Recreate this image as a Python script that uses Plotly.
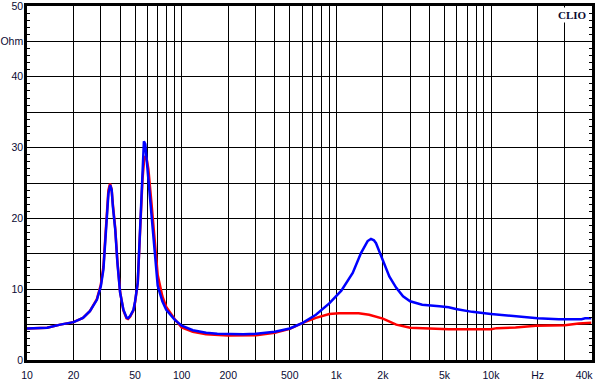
import plotly.graph_objects as go

# ---- data ----
freq_blue = [10, 13.5, 16.4, 20, 23, 25.5, 28.3, 30, 31.2, 32.5, 33.6, 34.5, 35.3, 35.9,
             37.2, 38.4, 40, 42, 44, 45, 46.4, 48.8, 50, 52, 53.9, 55.8, 57, 58.2, 59,
             60.9, 63.9, 67.3, 70, 75, 79.5, 90, 100, 118, 144, 170, 198, 250, 303, 400,
             500, 606, 738, 900, 1077, 1276, 1443, 1593, 1675, 1750, 1806, 2000, 2200,
             2440, 2700, 3000, 3590, 4640, 5330, 5920, 7560, 10000, 13700, 20000, 27400,
             38500, 40600, 44500]
imp_blue = [4.45, 4.55, 5.0, 5.35, 5.95, 6.9, 8.5, 10.4, 12.8, 18.4, 23.5, 24.7, 24.0, 21.7,
            18.4, 13.8, 9.5, 7.1, 6.0, 5.9, 6.2, 7.1, 8.3, 10.9, 18.4, 26.9, 30.9, 30.5, 29.0,
            25.5, 19.8, 14.7, 10.5, 8.3, 7.1, 5.7, 4.85, 4.2, 3.85, 3.7, 3.65, 3.65, 3.7, 4.0,
            4.45, 5.25, 6.4, 8.0, 9.8, 12.3, 15.1, 16.8, 17.1, 16.9, 16.5, 14.2, 11.8,
            10.2, 9.0, 8.3, 7.8, 7.6, 7.46, 7.2, 6.8, 6.5, 6.2, 5.9, 5.76,
            5.76, 5.9, 5.9]

freq_red = [10, 13.5, 16.4, 20, 23, 25.5, 28.3, 30, 31.2, 32.5, 33.6, 34.4, 35.2, 35.9,
            37.2, 38.4, 40, 42, 44, 45, 46.4, 48.8, 50, 52, 53.9, 55.8, 57.3, 58.5, 59.5,
            60.9, 63.9, 67.3, 70, 75, 79.5, 90, 100, 118, 144, 198, 303, 400, 500, 606,
            738, 900, 1040, 1394, 1630, 2000, 2440, 3000, 3980, 5330, 10000, 10900, 14400,
            19500, 30000, 36900, 44500]
imp_red = [4.45, 4.55, 5.0, 5.35, 5.95, 6.9, 8.6, 10.6, 13.2, 19.0, 24.0, 24.9, 24.2, 22.0,
           18.6, 14.0, 9.6, 7.0, 5.9, 5.8, 6.1, 7.0, 8.2, 10.9, 18.0, 25.5, 28.5, 28.8, 28.3,
           27.0, 22.0, 16.0, 12.0, 9.0, 7.5, 5.8, 4.6, 4.0, 3.65, 3.45, 3.5, 3.85, 4.4, 5.25,
           5.95, 6.5, 6.6, 6.6, 6.4, 5.85, 5.0, 4.55, 4.4, 4.35, 4.35, 4.5, 4.6,
           4.85, 4.9, 5.15, 5.25]

x_tick_vals = [10, 20, 50, 100, 200, 500, 1000, 2000, 5000, 10000, 20000, 40000]
x_tick_text = ["10", "20", "50", "100", "200", "500", "1k", "2k", "5k", "10k", "Hz", "40k"]
x_grid_vals = [m * d for d in (10, 100, 1000) for m in range(1, 10)] + [10000, 20000, 30000]

y_tick_vals = list(range(0, 51))
y_label_map = {0: "0", 10: "10", 20: "20", 30: "30", 40: "40", 45: "Ohm", 50: "50"}
y_tick_text = [y_label_map.get(v, "") for v in y_tick_vals]
y_grid_vals = list(range(0, 51, 5))

LABEL_COLOR = "#0a0a33"
FONT = "Liberation Sans, Arial, sans-serif"

fig = go.Figure()
fig.add_trace(go.Scatter(x=freq_red, y=imp_red, mode="lines",
                         line=dict(color="#ff0000", width=2.5), hoverinfo="skip"))
fig.add_trace(go.Scatter(x=freq_blue, y=imp_blue, mode="lines",
                         line=dict(color="#0000ff", width=2.5), hoverinfo="skip"))

fig.update_xaxes(
    type="log", range=[1, 4.653], automargin=False,
    tickmode="array", tickvals=x_tick_vals, ticktext=x_tick_text,
    ticks="", showgrid=False, zeroline=False, ticklabelstandoff=4,
    ticklabeloverflow="allow",
    showline=True, linecolor="black", linewidth=2.5, mirror=True,
    tickfont=dict(family=FONT, size=10.5, color=LABEL_COLOR),
    minor=dict(tickmode="array", tickvals=x_grid_vals, showgrid=True,
               gridcolor="black", gridwidth=1, ticks=""),
)
fig.update_yaxes(
    range=[0, 50], automargin=False,
    tickmode="array", tickvals=y_tick_vals, ticktext=y_tick_text,
    ticks="inside", ticklen=3, tickwidth=1, tickcolor="black",
    showgrid=False, zeroline=False, ticklabeloverflow="allow", ticklabelstandoff=-1,
    showline=True, linecolor="black", linewidth=2.5, mirror="ticks",
    tickfont=dict(family=FONT, size=10.5, color=LABEL_COLOR),
    minor=dict(tickmode="array", tickvals=y_grid_vals, showgrid=True,
               gridcolor="black", gridwidth=1, ticks=""),
)

fig.add_annotation(
    text="<b>CLIO</b>", xref="paper", yref="paper", x=0.995, y=0.997,
    xanchor="right", yanchor="top", showarrow=False,
    font=dict(family="Liberation Serif, Times New Roman, serif", size=11, color="#0a0a33"),
    bgcolor="white", borderpad=1,
)

fig.update_layout(
    width=600, height=384,
    margin=dict(l=27, r=8, t=6, b=24),
    plot_bgcolor="white", paper_bgcolor="white",
    showlegend=False,
)

fig.write_html("out.html", config={"displayModeBar": False},
               post_script="document.body.style.margin='0';document.body.style.overflow='hidden';")
